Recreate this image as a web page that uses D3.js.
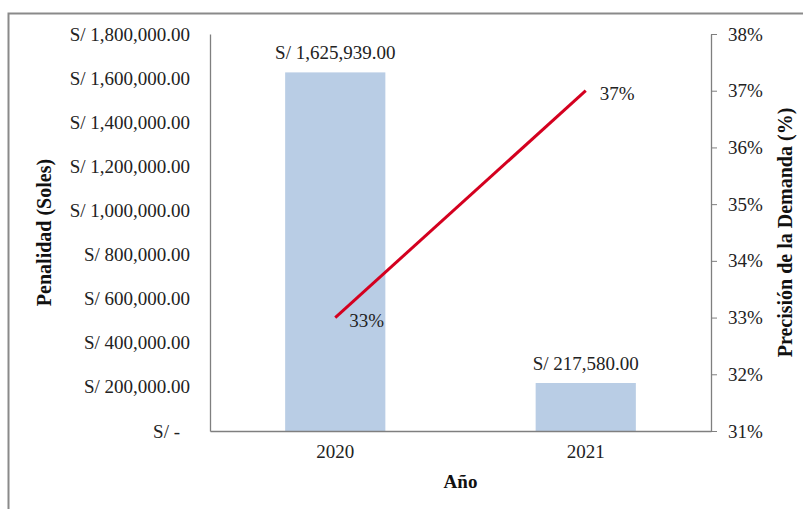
<!DOCTYPE html>
<html><head><meta charset="utf-8">
<script src="https://cdn.jsdelivr.net/npm/d3@7"></script>
<style>body{margin:0;background:#fff;}svg{display:block;}</style>
</head><body>
<script>
const years = ["2020", "2021"];
const penalties = [1625939, 217580];
const precision = [0.33, 0.37];
const leftTicks = [0, 200000, 400000, 600000, 800000, 1000000, 1200000, 1400000, 1600000, 1800000];
const rightTicks = [0.31, 0.32, 0.33, 0.34, 0.35, 0.36, 0.37, 0.38];

const W = 803, H = 509;
const m = {l: 210, r: 711, t: 34, b: 431};
const font = "'Liberation Serif','Times New Roman',serif";
const FS = 19;
const svg = d3.select("body").append("svg").attr("width", W).attr("height", H)
  .style("font-family", font);

// outer frame
svg.append("path").attr("d", `M8.5,${H} V13.5 H${W}`).attr("fill", "none")
  .attr("stroke", "#8a8a8a").attr("stroke-width", 2);

const x = d3.scaleBand().domain(years).range([m.l, m.r]).paddingInner(0.6).paddingOuter(0.3);
const y = d3.scaleLinear().domain([0, 1800000]).range([m.b, m.t]);
const y2 = d3.scaleLinear().domain([0.31, 0.38]).range([m.b, m.t]);

// bars
svg.selectAll(".bar").data(years).enter().append("rect")
  .attr("x", d => x(d)).attr("width", x.bandwidth())
  .attr("y", (d, i) => y(penalties[i])).attr("height", (d, i) => y(0) - y(penalties[i]))
  .attr("fill", "#b9cde5");

const fmtMoney = v => v === 0 ? "S/ -" : "S/ " + d3.format(",.2f")(v);

// left axis
const la = svg.append("g").attr("transform", `translate(${m.l},0)`)
  .call(d3.axisLeft(y).tickValues(leftTicks).tickFormat(fmtMoney).tickSize(0).tickPadding(20));
la.select(".domain").attr("stroke", "#7f7f7f").attr("stroke-width", 1.3);
la.selectAll("text").attr("font-size", FS).attr("fill", "#222").attr("font-family", font)
  .attr("dx", d => d === 0 ? -10 : 0);

// right axis
const ra = svg.append("g").attr("transform", `translate(${m.r},0)`)
  .call(d3.axisRight(y2).tickValues(rightTicks).tickFormat(d3.format(".0%")).tickSize(6).tickSizeOuter(0).tickPadding(11));
ra.select(".domain").attr("stroke", "#7f7f7f").attr("stroke-width", 1.3);
ra.selectAll("line").attr("stroke", "#7f7f7f");
ra.selectAll("text").attr("font-size", FS).attr("fill", "#222").attr("font-family", font);

// bottom axis
const ba = svg.append("g").attr("transform", `translate(0,${m.b})`)
  .call(d3.axisBottom(x).tickSize(0).tickPadding(14));
ba.select(".domain").attr("stroke", "#7f7f7f").attr("stroke-width", 1.3);
ba.selectAll("text").attr("font-size", FS).attr("fill", "#222").attr("font-family", font);

// line
const line = d3.line().x((d, i) => x(years[i]) + x.bandwidth() / 2).y(d => y2(d));
svg.append("path").datum(precision).attr("d", line).attr("fill", "none")
  .attr("stroke", "#d4001f").attr("stroke-width", 3);

// bar labels
svg.selectAll(".blab").data(years).enter().append("text")
  .attr("x", d => x(d) + x.bandwidth() / 2)
  .attr("y", (d, i) => y(penalties[i]) - 13)
  .attr("text-anchor", "middle").attr("font-size", FS).attr("fill", "#222")
  .text((d, i) => fmtMoney(penalties[i]));

// line labels
svg.selectAll(".llab").data(years).enter().append("text")
  .attr("x", d => x(d) + x.bandwidth() / 2 + 14)
  .attr("y", (d, i) => y2(precision[i]) + 9)
  .attr("font-size", FS).attr("fill", "#222")
  .text((d, i) => d3.format(".0%")(precision[i]));

// axis titles
svg.append("text").attr("transform", `translate(51,${(m.t + m.b) / 2}) rotate(-90)`)
  .attr("text-anchor", "middle").attr("font-size", 20).attr("font-weight", "bold").attr("fill", "#111")
  .text("Penalidad (Soles)");
svg.append("text").attr("transform", `translate(792,${(m.t + m.b) / 2}) rotate(-90)`)
  .attr("text-anchor", "middle").attr("font-size", 20).attr("font-weight", "bold").attr("fill", "#111")
  .text("Precisión de la Demanda (%)");
svg.append("text").attr("x", (m.l + m.r) / 2).attr("y", 488)
  .attr("text-anchor", "middle").attr("font-size", 19).attr("font-weight", "bold").attr("fill", "#111")
  .text("Año");
</script>
</body></html>
